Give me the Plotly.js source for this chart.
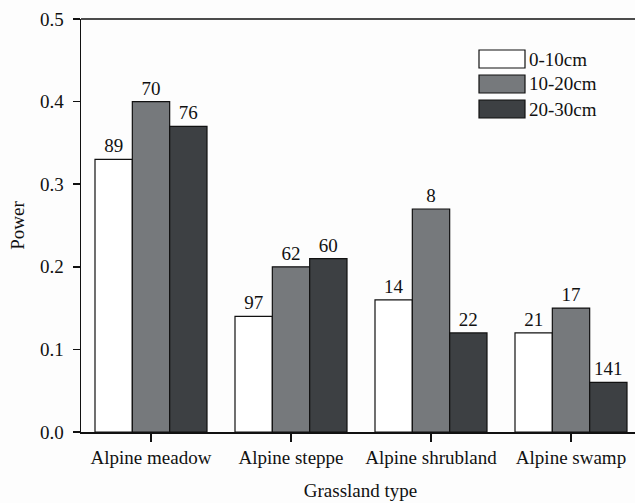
<!DOCTYPE html>
<html>
<head>
<meta charset="utf-8">
<script src="https://cdn.plot.ly/plotly-3.0.1.min.js"></script>
<style>html,body{margin:0;padding:0;background:#fdfdfd;overflow:hidden;}</style>
</head>
<body>
<div id="chart" style="width:635px;height:503px;"></div>
<script>
const categories = ["Alpine meadow", "Alpine steppe", "Alpine shrubland", "Alpine swamp"];
const seriesNames = ["0-10cm", "10-20cm", "20-30cm"];
const power0_10 = [0.33, 0.14, 0.16, 0.12];
const power10_20 = [0.40, 0.20, 0.27, 0.15];
const power20_30 = [0.37, 0.21, 0.12, 0.06];
const n0_10 = ["89", "97", "14", "21"];
const n10_20 = ["70", "62", "8", "17"];
const n20_30 = ["76", "60", "22", "141"];
const yTicks = [0.0, 0.1, 0.2, 0.3, 0.4, 0.5];

const colors = ["#ffffff", "#76797c", "#3d4043"];
const FONT = "'Liberation Serif', 'Times New Roman', serif";
const values = [power0_10, power10_20, power20_30];
const labels = [n0_10, n10_20, n20_30];

const traces = values.map((v, i) => ({
  type: "bar",
  x: categories,
  y: v,
  name: seriesNames[i],
  text: labels[i],
  textposition: "outside",
  textfont: {family: FONT, size: 19, color: "#111"},
  cliponaxis: true,
  marker: {color: colors[i], line: {color: "#111", width: 1.2}},
  showlegend: false
}));

// plot area in pixels
const L = 81, R = 640, T = 19, B = 432;
const px = x => (x - L) / (R - L);
const py = y => (B - y) / (B - T);

const shapes = [{type: "line", xref: "paper", yref: "paper", x0: 0, x1: 1, y0: 1, y1: 1,
  line: {color: "#111", width: 1.5}}];
const annotations = [];
const legendTop = [50, 75, 100];
seriesNames.forEach((nm, i) => {
  shapes.push({type: "rect", xref: "paper", yref: "paper",
    x0: px(479), x1: px(525), y0: py(legendTop[i]), y1: py(legendTop[i] + 18),
    fillcolor: colors[i], line: {color: "#111", width: 1.2}});
  annotations.push({xref: "paper", yref: "paper", x: px(527), y: py(legendTop[i] + 9),
    xanchor: "left", yanchor: "middle", text: nm, showarrow: false,
    font: {family: FONT, size: 19, color: "#111"}});
});

const layout = {
  width: 640, height: 503,
  paper_bgcolor: "#fdfdfd", plot_bgcolor: "#fdfdfd",
  margin: {l: L, r: 640 - R, t: T, b: 503 - B, pad: 0},
  font: {family: FONT, size: 19, color: "#111"},
  barmode: "group", bargap: 0.2, bargroupgap: 0,
  showlegend: false,
  xaxis: {
    type: "category", range: [-0.5, -0.5 + (R - L) / 140],
    showline: true, linecolor: "#111", linewidth: 1.5, mirror: false,
    ticks: "outside", ticklen: 8, tickwidth: 1.5, tickcolor: "#111",
    tickfont: {family: FONT, size: 19, color: "#111"},
    title: {text: "Grassland type", font: {family: FONT, size: 19, color: "#111"}, standoff: 16},
    showgrid: false, zeroline: false, fixedrange: true
  },
  xaxis2: {
    overlaying: "x", anchor: "y", type: "linear",
    range: [-0.5, -0.5 + (R - L) / 140],
    tickvals: [0.5, 1.5, 2.5], ticks: "outside", ticklen: 4, tickwidth: 1.5, tickcolor: "#111",
    showticklabels: false, showline: false, showgrid: false, zeroline: false
  },
  yaxis: {
    range: [0, 0.5], tickvals: yTicks, tickformat: ".1f",
    showline: true, linecolor: "#111", linewidth: 1.5,
    ticks: "outside", ticklen: 7, tickwidth: 1.5, tickcolor: "#111",
    ticklabelstandoff: 5,
    tickfont: {family: FONT, size: 19, color: "#111"},
    title: {text: "Power", font: {family: FONT, size: 19, color: "#111"}, standoff: 10},
    showgrid: false, zeroline: false, fixedrange: true
  },
  shapes: shapes,
  annotations: annotations
};

Plotly.newPlot("chart", traces, layout, {displayModeBar: false, staticPlot: true});
</script>
</body>
</html>
